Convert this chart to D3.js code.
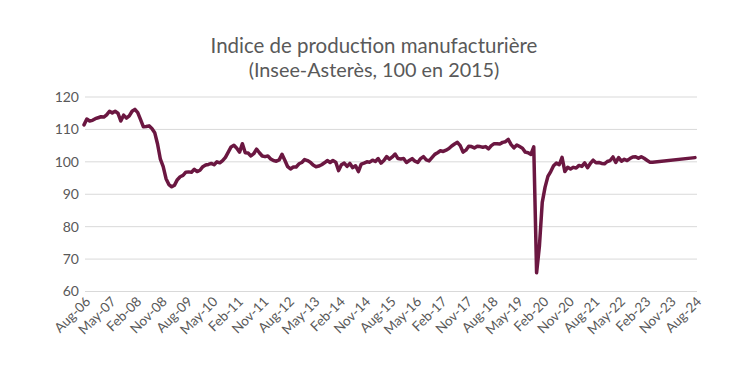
<!DOCTYPE html>
<html>
<head>
<meta charset="utf-8">
<script src="https://cdn.jsdelivr.net/npm/d3@7"></script>
<style>
  html, body { margin: 0; padding: 0; background: #fff; }
  svg { display: block; }
</style>
</head>
<body>
<svg id="chart" width="750" height="375"></svg>
<script>
// ---- DATA ----
const titleLines = ["Indice de production manufacturière", "(Insee-Asterès, 100 en 2015)"];
const startMonth = new Date(2006, 7, 1);   // Aug-06
const endMonth = new Date(2024, 7, 1);     // Aug-24
const yTicks = [60, 70, 80, 90, 100, 110, 120];
const tickEvery = 9; // one label every 9 months
// monthly index values, Aug-06 ... Aug-24 (null = no monthly value)
const values = [
  111.4, 113.2, 112.6, 112.8, 113.3, 113.6, 113.9, 113.8, 114.5, 115.6, 115.1, 115.6,
  115.0, 112.6, 114.4, 113.5, 114.2, 115.6, 116.2, 115.2, 113.0, 110.8, 110.9, 111.1,
  110.3, 109.0, 105.5, 100.8, 98.5, 94.8, 93.0, 92.3, 92.8, 94.5, 95.4, 95.8,
  96.8, 96.9, 96.8, 97.7, 97.0, 97.4, 98.5, 99.0, 99.2, 99.5, 99.1, 100.0,
  99.7, 100.4, 101.4, 103.0, 104.6, 105.1, 104.2, 103.0, 105.6, 102.8, 102.7, 101.8,
  102.5, 103.9, 102.8, 101.8, 101.6, 101.8, 100.9, 100.4, 100.2, 100.6, 102.3, 100.5,
  98.5, 97.8, 98.4, 98.4, 99.4, 99.8, 100.7, 100.4, 99.9, 99.0, 98.5, 98.7,
  99.1, 99.7, 100.4, 99.8, 100.4, 99.9, 97.3, 99.1, 99.6, 98.6, 99.5, 98.2,
  98.8, 97.0, 99.3, 99.6, 100.0, 99.9, 100.5, 100.1, 101.0, 99.6, 100.4, 101.6,
  100.8, 101.5, 102.4, 101.0, 100.9, 101.0, 99.8, 100.4, 101.0, 100.2, 99.8, 101.0,
  101.6, 100.6, 100.3, 101.3, 102.3, 102.8, 103.4, 103.2, 103.6, 104.1, 104.9, 105.5,
  106.0, 105.0, 103.0, 103.6, 104.8, 104.7, 104.3, 104.8, 104.7, 104.5, 104.7, 104.0,
  105.0, 105.6, 105.6, 105.5, 106.0, 106.2, 106.9, 105.3, 104.3, 105.2, 104.7, 104.2,
  103.0, 102.8, 102.3, 104.6, 65.8, 74.0, 87.5, 92.2, 95.5, 97.0, 98.8, 99.6,
  99.1, 101.4, 97.0, 98.3, 97.8, 98.3, 98.1, 98.9, 98.6, 99.7, 98.2, 99.5,
  100.5, 99.7, 99.8, 99.5, 99.4, 100.1, 100.4, 101.5, 99.8, 101.3, 100.2, 100.8,
  100.4, 101.0, 101.5, 101.6, 101.1, 101.6, 101.1, 100.5, 99.9, 99.9, null, null,
  null, null, null, null, null, null, null, null, null, null, null, null,
  101.3
];

// ---- CHART ----
const months = d3.timeMonth.range(startMonth, d3.timeMonth.offset(endMonth, 1));
const fmt = d3.timeFormat("%b-%y");
const svg = d3.select("#chart");
const FONT = "Lato, 'Open Sans', sans-serif";
const TEXT = "#595959";

const x = d3.scalePoint().domain(months.map((d, i) => i)).range([84, 695]);
const y = d3.scaleLinear().domain([60, 120]).range([291.5, 97]);

// gridlines
svg.append("g").selectAll("line").data(yTicks).join("line")
  .attr("x1", 85).attr("x2", 697)
  .attr("y1", d => y(d)).attr("y2", d => y(d))
  .attr("stroke", "#d9d9d9").attr("stroke-width", 1);

// y labels
svg.append("g").selectAll("text").data(yTicks).join("text")
  .attr("x", 79).attr("y", d => y(d)).attr("dy", "0.35em")
  .attr("text-anchor", "end")
  .attr("font-family", FONT).attr("font-size", 14).attr("fill", TEXT)
  .text(d => d);

// x labels
const tickIdx = months.map((d, i) => i).filter(i => i % tickEvery === 0);
svg.append("g").selectAll("text").data(tickIdx).join("text")
  .attr("transform", i => `translate(${x(i) + 4},${299}) rotate(-45)`)
  .attr("dy", "0.35em")
  .attr("text-anchor", "end")
  .attr("font-family", FONT).attr("font-size", 13.5).attr("fill", TEXT)
  .text(i => fmt(months[i]));

// line
const pts = values.map((v, i) => ({ i, v })).filter(d => d.v !== null);
svg.append("path").datum(pts)
  .attr("fill", "none")
  .attr("stroke", "#6b1741")
  .attr("stroke-width", 3.5)
  .attr("stroke-linejoin", "round")
  .attr("stroke-linecap", "round")
  .attr("d", d3.line().x(d => x(d.i)).y(d => y(d.v)));

// title
const titleWidths = [327, 251];
const titleY = [53, 77];
titleLines.forEach((t, k) => {
  const el = svg.append("text")
    .attr("x", 374).attr("y", titleY[k])
    .attr("text-anchor", "middle")
    .attr("font-family", FONT).attr("font-size", 20).attr("fill", TEXT)
    .text(t);
  const w = el.node().getComputedTextLength();
  el.attr("font-size", 20 * titleWidths[k] / w);
});
</script>
</body>
</html>
